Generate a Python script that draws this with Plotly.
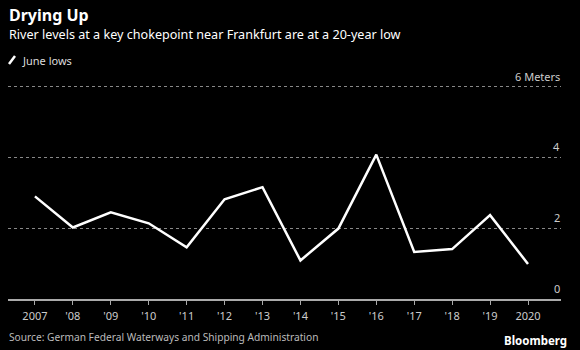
import plotly.graph_objects as go

years = list(range(2007, 2021))
june_lows = [2.90, 2.02, 2.45, 2.14, 1.46, 2.82, 3.16, 1.09, 1.99, 4.08, 1.33, 1.41, 2.37, 0.99]
x_tick_labels = ["2007", "'08", "'09", "'10", "'11", "'12", "'13", "'14", "'15", "'16", "'17", "'18", "'19", "2020"]
y_tick_vals = [0, 2, 4, 6]
y_tick_labels = ["0", "2", "4", "6 Meters"]

FONT = "Noto Sans"
W, H = 580, 350
ml, mr, mt, mb = 8, 19, 69, 51
PW, PH = W - ml - mr, H - mt - mb


def px(x):
    return (x - ml) / PW


def py(y):
    return (H - mb - y) / PH


fig = go.Figure()
fig.add_trace(go.Scatter(
    x=years, y=june_lows, mode="lines", name="June lows",
    line=dict(color="white", width=2.5), showlegend=False,
))

fig.update_layout(
    width=W, height=H,
    margin=dict(l=ml, r=mr, t=mt, b=mb, pad=0),
    paper_bgcolor="black", plot_bgcolor="black",
    font=dict(family=FONT, color="#cccccc", size=11),
    xaxis=dict(
        range=[2006.29, 2020.87], tickvals=years, ticktext=x_tick_labels,
        showgrid=False, zeroline=False, showline=True, linecolor="#aaaaaa", linewidth=1.5,
        ticks="outside", ticklen=4, tickcolor="#aaaaaa", tickwidth=1,
        ticklabelstandoff=2,
        tickfont=dict(size=11, color="#cccccc", family=FONT),
    ),
    yaxis=dict(
        range=[0, 6.5], tickvals=y_tick_vals, showticklabels=False,
        showgrid=True, gridcolor="#888888", griddash="dot", gridwidth=1,
        zeroline=False, showline=False, ticks="",
    ),
)

# y tick labels, placed on the y scale, right-aligned above gridlines
for v, lab in zip(y_tick_vals, y_tick_labels):
    fig.add_annotation(x=1, y=v, xref="paper", yref="y", xanchor="right", yanchor="bottom",
                       text=lab, showarrow=False, yshift=1, xshift=1,
                       font=dict(size=11, color="#cccccc", family=FONT))

# Title, subtitle, legend, source
fig.add_annotation(x=px(7), y=py(15), xref="paper", yref="paper", xanchor="left", yanchor="middle",
                   text="<b>Drying Up</b>", showarrow=False, font=dict(size=16, color="white", family=FONT))
fig.add_annotation(x=px(7), y=py(34), xref="paper", yref="paper", xanchor="left", yanchor="middle",
                   text="River levels at a key chokepoint near Frankfurt are at a 20-year low", showarrow=False,
                   font=dict(size=12.6, color="white", family=FONT))
fig.add_shape(type="line", xref="paper", yref="paper",
              x0=px(9), y0=py(64), x1=px(15), y1=py(56), line=dict(color="white", width=2.5))
fig.add_annotation(x=px(20), y=py(60), xref="paper", yref="paper", xanchor="left", yanchor="middle",
                   text="June lows", showarrow=False, font=dict(size=11, color="#dddddd", family=FONT))
fig.add_annotation(x=px(7), y=py(337), xref="paper", yref="paper", xanchor="left", yanchor="middle",
                   text="Source: German Federal Waterways and Shipping Administration", showarrow=False,
                   font=dict(size=10.2, color="#bbbbbb", family=FONT))
fig.add_annotation(x=px(569), y=py(340), xref="paper", yref="paper", xanchor="right", yanchor="middle",
                   text="<b>Bloomberg</b>", showarrow=False, font=dict(size=11.5, color="white", family=FONT))

fig.write_html("out.html")
